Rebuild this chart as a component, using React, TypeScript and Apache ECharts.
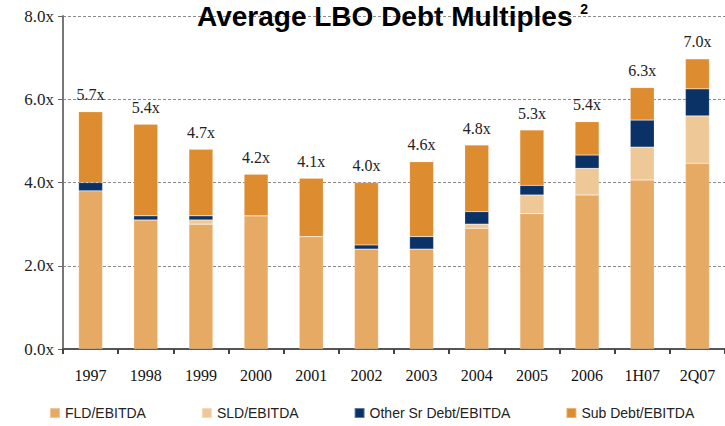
import React, { useEffect, useRef } from "react";
import * as echarts from "echarts";

const categories = ["1997", "1998", "1999", "2000", "2001", "2002", "2003", "2004", "2005", "2006", "1H07", "2Q07"];
const fld = [3.8, 3.1, 3.0, 3.2, 2.7, 2.4, 2.4, 2.9, 3.25, 3.7, 4.06, 4.46];
const sld = [0, 0, 0.1, 0, 0, 0, 0, 0.1, 0.45, 0.64, 0.79, 1.14];
const otherSr = [0.2, 0.1, 0.1, 0, 0, 0.1, 0.3, 0.3, 0.23, 0.32, 0.65, 0.65];
const subDebt = [1.7, 2.2, 1.6, 1.0, 1.4, 1.5, 1.8, 1.6, 1.33, 0.8, 0.78, 0.72];
const totals = ["5.7x", "5.4x", "4.7x", "4.2x", "4.1x", "4.0x", "4.6x", "4.8x", "5.3x", "5.4x", "6.3x", "7.0x"];
const yTicks = [0, 2, 4, 6, 8];

const COLORS = {
  fld: "#E7AA65",
  sld: "#EFC898",
  other: "#0B3266",
  sub: "#DD8C30",
};

export default function App() {
  const ref = useRef<HTMLDivElement>(null);
  useEffect(() => {
    if (!ref.current) return;
    const chart = echarts.init(ref.current, undefined, { renderer: "svg" });
    const serif = "'Liberation Serif', 'Times New Roman', serif";
    const sans = "'Liberation Sans', Arial, sans-serif";
    const mk = (name: string, data: number[], color: string, withLabel = false) => ({
      name,
      type: "bar",
      stack: "total",
      barWidth: 24,
      data,
      itemStyle: { color, borderColor: "rgba(255,255,255,0.35)", borderWidth: 0.5 },
      label: withLabel
        ? {
            show: true,
            position: "top",
            distance: 9,
            fontFamily: serif,
            fontSize: 16,
            color: "#222",
            formatter: (p: any) => totals[p.dataIndex],
          }
        : { show: false },
    });
    chart.setOption({
      animation: false,
      backgroundColor: "#fff",
      title: {
        text: "{a|Average LBO Debt Multiples }{b|2}",
        left: 197,
        top: 2,
        padding: 0,
        textStyle: {
          rich: {
            a: { fontFamily: sans, fontWeight: "bold", fontSize: 28, color: "#000" },
            b: { fontFamily: sans, fontSize: 14, color: "#000", verticalAlign: "top", padding: [0, 0, 10, 0] },
          },
        },
      },
      legend: {
        left: 49,
        top: 406,
        padding: 0,
        itemGap: 55,
        itemWidth: 10,
        itemHeight: 10,
        icon: "rect",
        textStyle: { fontFamily: sans, fontSize: 14, color: "#222" },
        data: ["FLD/EBITDA", "SLD/EBITDA", "Other Sr Debt/EBITDA", "Sub Debt/EBITDA"],
      },
      grid: { left: 63, top: 16, width: 664, height: 333, containLabel: false },
      xAxis: {
        type: "category",
        data: categories,
        axisLine: { show: true, lineStyle: { color: "#555", width: 2 } },
        axisTick: { show: true, length: 5, lineStyle: { color: "#444", width: 2 } },
        axisLabel: { fontFamily: serif, fontSize: 16, color: "#111", margin: 18 },
      },
      yAxis: {
        type: "value",
        min: yTicks[0],
        max: yTicks[yTicks.length - 1],
        interval: 2,
        axisLine: { show: true, lineStyle: { color: "#777", width: 2 } },
        axisTick: { show: true, length: 5, lineStyle: { color: "#666" } },
        axisLabel: {
          fontFamily: serif,
          fontSize: 17,
          color: "#222",
          margin: 9,
          formatter: (v: number) => v.toFixed(1) + "x",
        },
        splitLine: { show: true, lineStyle: { color: "#8a8a8a", type: [3, 2], width: 1 } },
      },
      series: [
        mk("FLD/EBITDA", fld, COLORS.fld),
        mk("SLD/EBITDA", sld, COLORS.sld),
        mk("Other Sr Debt/EBITDA", otherSr, COLORS.other),
        mk("Sub Debt/EBITDA", subDebt, COLORS.sub, true),
      ],
    });
    return () => chart.dispose();
  }, []);
  return <div ref={ref} style={{ position: "fixed", left: 0, top: 0, width: 725, height: 426 }} />;
}
